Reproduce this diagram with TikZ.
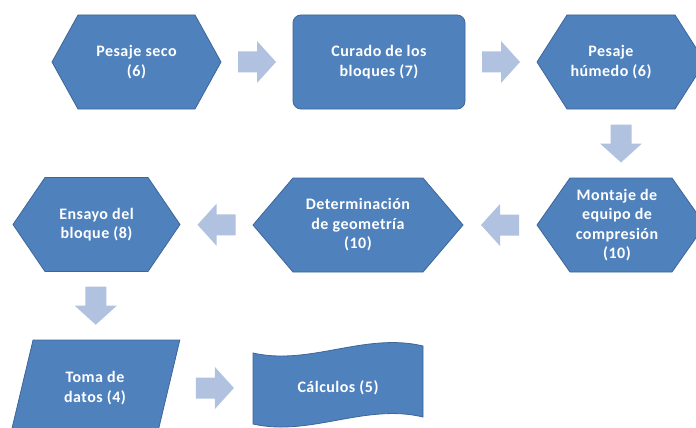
\documentclass[tikz,border=0pt]{standalone}
\usepackage{fontspec}
\setmainfont{Carlito}[LetterSpace=3.0]
\usetikzlibrary{positioning,calc,shapes.geometric,backgrounds}
\definecolor{boxblue}{HTML}{4F81BD}
\definecolor{boxline}{HTML}{3D6699}
\definecolor{arrowblue}{HTML}{B0C2DF}

% hexagon drawn round a named node: node name, inset of the slanted sides
\newcommand{\hexfill}[2]{%
  \filldraw[boxblue, draw=boxline, line width=0.8pt] (#1.west) -- ([xshift=#2]#1.north west)
    -- ([xshift=-#2]#1.north east) -- (#1.east) -- ([xshift=-#2]#1.south east)
    -- ([xshift=#2]#1.south west) -- cycle;}

\tikzset{
  label/.style={text=white, font=\bfseries\fontsize{16}{19.5}\selectfont,
    align=center, inner sep=0pt, outer sep=0pt},
  box/.style={label, fill=boxblue, draw=boxline, line width=0.8pt},
  hexa/.style={label, minimum height=94pt},
  flecha/.pic={\fill[arrowblue] (-19,-10.5) -- (0,-10.5) -- (0,-21) -- (19,0)
    -- (0,21) -- (0,10.5) -- (-19,10.5) -- cycle;}
}

\begin{document}
\begin{tikzpicture}[x=1pt,y=-1pt]
  \useasboundingbox (0,0) rectangle (696,428);
  % row 1
  \node[hexa, minimum width=169pt] (seco) at (136.5,62) {Pesaje seco\\(6)};
  \node[box, rounded corners=8pt, minimum width=172pt, minimum height=94pt] (curado) at (379,62) {Curado de los\\bloques (7)};
  \node[hexa, minimum width=168pt] (humedo) at (621,62) {};
  \node[label] (humedo-t) at (611,62) {Pesaje\\húmedo (6)};
  % row 2
  \node[hexa, minimum width=168pt] (montaje) at (621,225) {};
  \node[label] (montaje-t) at (617,225) {Montaje de\\equipo de\\compresión\\(10)};
  \node[hexa, minimum width=210pt] (geometria) at (358,225) {Determinación\\de geometría\\(10)};
  \node[hexa, minimum width=167pt] (ensayo) at (96.5,224.5) {Ensayo del\\bloque (8)};
  % row 3
  \node[box, trapezium, trapezium left angle=71, trapezium right angle=109, trapezium stretches=true,
    minimum width=170pt, minimum height=96pt] (toma) at (95,388) {Toma de\\datos (4)};
  \node[label, minimum width=170pt, minimum height=72pt] (calculos) at (338,388) {Cálculos (5)};
  % shapes behind their texts
  \begin{scope}[on background layer]
    \hexfill{seco}{26pt}
    \hexfill{humedo}{30pt}
    \hexfill{montaje}{33pt}
    \hexfill{geometria}{40pt}
    \hexfill{ensayo}{32pt}
    % punched tape
    \filldraw[boxblue, draw=boxline, line width=0.8pt] (253,353)
      .. controls (310,366) and (365,332) .. (423,346) -- (423,417)
      .. controls (365,403) and (310,437) .. (253,424) -- cycle;
  \end{scope}
  % block arrows between the steps
  \pic at ($(seco.east)!0.5!(curado.west)$) {flecha};
  \pic at ($(curado.east)!0.5!(humedo.west)$) {flecha};
  \pic[rotate=-90] at ($(humedo.south)!0.5!(montaje.north)$) {flecha};
  \pic[rotate=180] at ($(montaje.west)!0.5!(geometria.east)$) {flecha};
  \pic[rotate=180] at ($(geometria.west)!0.5!(ensayo.east)$) {flecha};
  \pic[rotate=-90] at ($(ensayo.south)!0.5!(toma.north)$) {flecha};
  \pic at ($(toma.east)!0.55!(calculos.west)$) {flecha};
\end{tikzpicture}
\end{document}
